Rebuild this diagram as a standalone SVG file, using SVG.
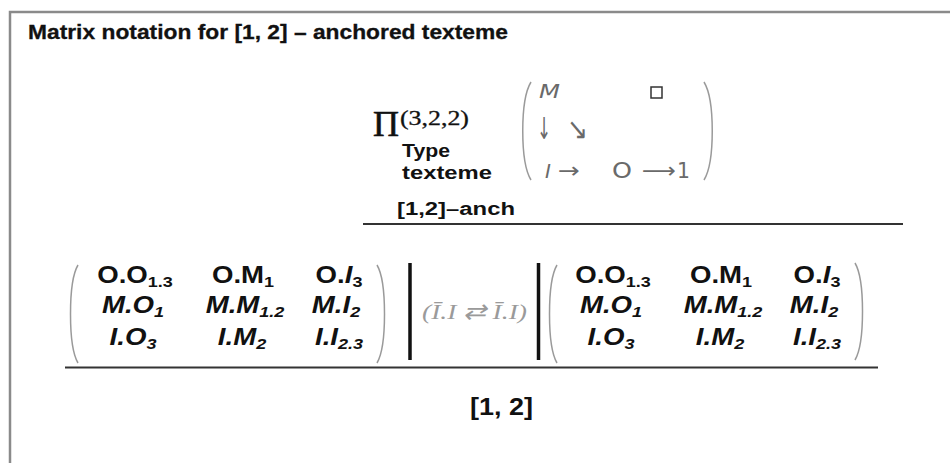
<svg xmlns="http://www.w3.org/2000/svg" width="950" height="463" viewBox="0 0 950 463">
<style>
.b{font-family:"Liberation Sans",Arial,sans-serif;font-weight:bold;fill:#111}
.e{font-family:"Liberation Sans",Arial,sans-serif;font-weight:bold;font-size:23px;fill:#111;text-anchor:middle}
.i{font-style:italic}
.s{font-size:15px}
.g{font-family:"DejaVu Sans","Liberation Sans",sans-serif;fill:#6a6a6a}
.sr{font-family:"Liberation Serif","Times New Roman",serif;fill:#111}
.par{fill:none;stroke:#9a9a9a;stroke-width:1.5}
.rule{stroke:#333;stroke-width:2}
.bar{stroke:#111;stroke-width:3.5}
.frame{stroke:#8a8a8a;stroke-width:2.5;fill:none}
</style>
<rect width="950" height="463" fill="#fff"/>
<path class="frame" d="M10,463 V12 H950"/>
<g id="title"><text class="b" x="28" y="39" font-size="20.5" stroke="#111" stroke-width="0.3" textLength="480" lengthAdjust="spacingAndGlyphs">Matrix notation for [1, 2] – anchored texteme</text></g>

<g id="type-texteme">
<text class="sr" x="373" y="136" font-size="36" stroke="#111" stroke-width="0.6" textLength="26" lengthAdjust="spacingAndGlyphs">Π</text>
<text class="sr" x="400" y="125" font-size="20" stroke="#111" stroke-width="0.3" textLength="69" lengthAdjust="spacingAndGlyphs">(3,2,2)</text>
<text class="b" x="402" y="157" font-size="18" textLength="48" lengthAdjust="spacingAndGlyphs">Type</text>
<text class="b" x="402" y="179" font-size="18" textLength="90" lengthAdjust="spacingAndGlyphs">texteme</text>
<text class="b" x="397" y="215" font-size="17.5" textLength="118" lengthAdjust="spacingAndGlyphs">[1,2]–anch</text>
<path class="par" d="M531,82 C520,100 520,162 531,180"/>
<path class="par" d="M704,82 C715,100 715,162 704,180"/>
<text class="g i" x="539" y="98" font-size="19" textLength="21" lengthAdjust="spacingAndGlyphs">M</text>
<rect x="651" y="87" width="11" height="11" fill="none" stroke="#333" stroke-width="1.5"/>
<text class="g" x="537" y="139" font-size="30" textLength="14" lengthAdjust="spacingAndGlyphs">↓</text>
<text class="g" x="567" y="139" font-size="30" textLength="21" lengthAdjust="spacingAndGlyphs">↘</text>
<text class="g i" x="545" y="178" font-size="20">I</text>
<text class="g" x="558" y="178" font-size="22" textLength="22" lengthAdjust="spacingAndGlyphs">→</text>
<text class="g" x="612" y="178" font-size="21" textLength="20" lengthAdjust="spacingAndGlyphs">O</text>
<text class="g" x="642" y="178" font-size="22" textLength="34" lengthAdjust="spacingAndGlyphs">⟶</text>
<text class="g" x="677" y="178" font-size="21" textLength="13" lengthAdjust="spacingAndGlyphs">1</text>
</g>

<line class="rule" x1="363" y1="224" x2="903" y2="224"/>

<g id="matrix-left">
<path class="par" d="M78,265 C68,282 68,346 78,363"/>
<path class="par" d="M377,265 C387,282 387,346 377,363"/>
<g transform="translate(135,283) scale(1.2,1)"><text class="e">O.O<tspan class="s" dy="4">1.3</tspan></text></g>
<g transform="translate(243,283) scale(1.2,1)"><text class="e">O.M<tspan class="s" dy="4">1</tspan></text></g>
<g transform="translate(339,283) scale(1.2,1)"><text class="e">O.<tspan class="i">I</tspan><tspan class="s" dy="4">3</tspan></text></g>
<g transform="translate(133,313) scale(1.2,1)"><text class="e i">M.O<tspan class="s" dy="4">1</tspan></text></g>
<g transform="translate(245,313) scale(1.2,1)"><text class="e i">M.M<tspan class="s" dy="4">1.2</tspan></text></g>
<g transform="translate(336,313) scale(1.2,1)"><text class="e i">M.I<tspan class="s" dy="4">2</tspan></text></g>
<g transform="translate(133,345) scale(1.2,1)"><text class="e i">I.O<tspan class="s" dy="4">3</tspan></text></g>
<g transform="translate(242,345) scale(1.2,1)"><text class="e i">I.M<tspan class="s" dy="4">2</tspan></text></g>
<g transform="translate(339,345) scale(1.2,1)"><text class="e i">I.I<tspan class="s" dy="4">2.3</tspan></text></g>
</g>

<g id="middle">
<line class="bar" x1="410" y1="263" x2="410" y2="360"/>
<line class="bar" x1="538.5" y1="263" x2="538.5" y2="360"/>
<text x="422" y="319" font-family="Liberation Serif, Times New Roman, serif" font-style="italic" font-size="22" fill="#9a9a9a" textLength="105" lengthAdjust="spacingAndGlyphs">(Ī.I ⇄ Ī.I)</text>
</g>

<g id="matrix-right">
<path class="par" d="M557,265 C547,282 547,346 557,363"/>
<path class="par" d="M855,263 C865,280 865,343 855,360"/>
<g transform="translate(613,283) scale(1.2,1)"><text class="e">O.O<tspan class="s" dy="4">1.3</tspan></text></g>
<g transform="translate(721,283) scale(1.2,1)"><text class="e">O.M<tspan class="s" dy="4">1</tspan></text></g>
<g transform="translate(817,283) scale(1.2,1)"><text class="e">O.<tspan class="i">I</tspan><tspan class="s" dy="4">3</tspan></text></g>
<g transform="translate(611,313) scale(1.2,1)"><text class="e i">M.O<tspan class="s" dy="4">1</tspan></text></g>
<g transform="translate(723,313) scale(1.2,1)"><text class="e i">M.M<tspan class="s" dy="4">1.2</tspan></text></g>
<g transform="translate(814,313) scale(1.2,1)"><text class="e i">M.I<tspan class="s" dy="4">2</tspan></text></g>
<g transform="translate(611,345) scale(1.2,1)"><text class="e i">I.O<tspan class="s" dy="4">3</tspan></text></g>
<g transform="translate(720,345) scale(1.2,1)"><text class="e i">I.M<tspan class="s" dy="4">2</tspan></text></g>
<g transform="translate(817,345) scale(1.2,1)"><text class="e i">I.I<tspan class="s" dy="4">2.3</tspan></text></g>
</g>

<line class="rule" x1="65" y1="367.5" x2="878" y2="367.5"/>

<g id="denominator"><text class="b" x="470" y="415" font-size="23" textLength="63" lengthAdjust="spacingAndGlyphs">[1, 2]</text></g>
</svg>
